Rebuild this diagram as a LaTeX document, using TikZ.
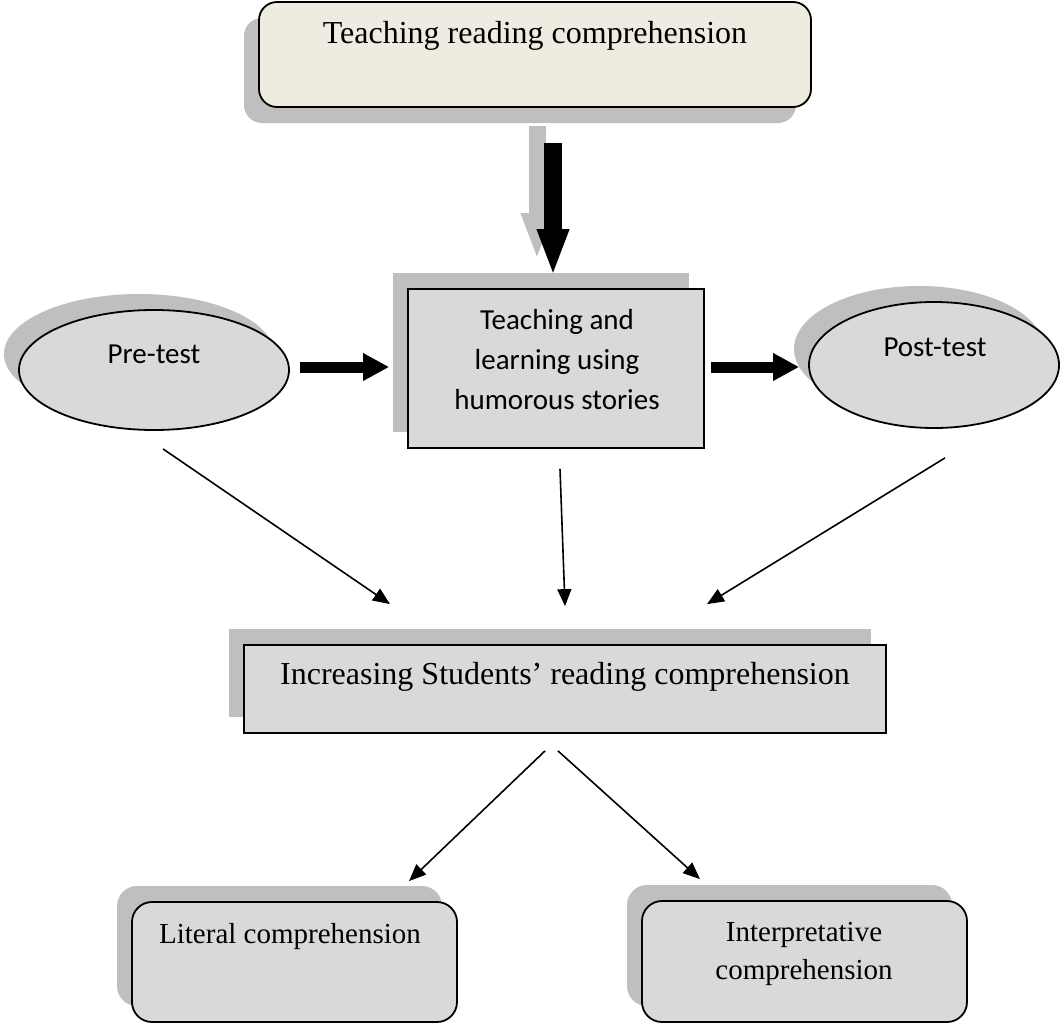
\documentclass[tikz,border=0pt]{standalone}
\usepackage{fontspec}
\setmainfont{Liberation Serif}
\newfontfamily\calibrifont{Carlito}
\usetikzlibrary{arrows.meta,shapes.geometric,shadows}
\definecolor{shadowgray}{HTML}{BFBFBF}
\definecolor{boxgray}{HTML}{D9D9D9}
\definecolor{boxbeige}{HTML}{EEECE1}

\begin{document}
\begin{tikzpicture}[x=1pt,y=-1pt,
    raisedshade/.style={general shadow={fill=shadowgray,shadow xshift=-15pt,shadow yshift=16pt}},
    droppedshade/.style={general shadow={fill=shadowgray,shadow xshift=-15pt,shadow yshift=-16pt}},
    box/.style={draw=black,line width=1.8pt,fill=boxgray,inner sep=0pt},
    oval/.style={box,ellipse,raisedshade},
    serif text/.style={font=\fontsize{32}{38}\selectfont,inner sep=0pt},
    small serif/.style={font=\fontsize{29}{38}\selectfont,inner sep=0pt,align=center},
    sans text/.style={font=\calibrifont\fontsize{29}{40}\selectfont,inner sep=0pt,align=center},
    bigarrow/.style={line width=#1,-{Triangle[length=26pt,width=26pt]}},
    link/.style={line width=1.6pt,-{Triangle[length=17pt,width=14pt]}}]
    \useasboundingbox (0,0) rectangle (1062,1025);

    % Boite du haut
    \node[box,fill=boxbeige,rounded corners=18pt,droppedshade,minimum width=552pt,minimum height=105pt] (teach) at (535,54.5) {};
    \node[serif text] (teachtxt) at (535,36) {Teaching reading comprehension};

    % Ligne du milieu
    \node[oval,minimum width=270pt,minimum height=120pt] (pre) at (154,370) {};
    \node[box,raisedshade,minimum width=296pt,minimum height=159pt] (mid) at (556,368.5) {};
    \node[oval,minimum width=250pt,minimum height=126pt] (post) at (934,365) {};
    \node[sans text] (pretxt) at (154,354) {Pre-test};
    \node[sans text] (midtxt) at (557,360) {Teaching and\\learning using\\humorous stories};
    \node[sans text] (posttxt) at (935,347) {Post-test};

    % Resultat
    \node[box,raisedshade,minimum width=642pt,minimum height=88pt] (incr) at (565,689) {};
    \node[serif text] (incrtxt) at (565,677) {Increasing Students’ reading comprehension};

    % Boites du bas
    \node[box,rounded corners=20pt,raisedshade,minimum width=325pt,minimum height=120pt] (lit) at (294.5,962) {};
    \node[box,rounded corners=20pt,raisedshade,minimum width=325pt,minimum height=121pt] (interp) at (804.5,961.5) {};
    \node[small serif] (littxt) at (290,937) {Literal comprehension};
    \node[small serif] (interptxt) at (804,954) {Interpretative\\comprehension};

    % Grosses fleches
    \draw[shadowgray,line width=17pt,-{Triangle[length=47pt,width=29pt]},shorten <=35pt,shorten >=12pt,
          transform canvas={xshift=-16pt,yshift=17pt}] (teach.south -| 553,0) -- (553,289);
    \draw[line width=18pt,-{Triangle[length=47pt,width=29pt]},shorten <=35pt,shorten >=12pt] (teach.south -| 553,0) -- (mid.north -| 553,0);
    \draw[bigarrow=11pt,shorten <=10pt,shorten >=18pt] (pre.east |- 0,367) -- (mid.west |- 0,367);
    \draw[bigarrow=11pt,shorten <=6pt,shorten >=9pt] (mid.east |- 0,367) -- (post.west |- 0,367);

    % Fleches fines
    \draw[link] ([xshift=9pt,yshift=-18pt]pre.south) -- ([xshift=-175pt,yshift=40pt]incr.north);
    \draw[link] ([xshift=4pt,yshift=-20pt]mid.south) -- ([yshift=38pt]incr.north);
    \draw[link] ([xshift=11pt,yshift=-29pt]post.south) -- ([xshift=142pt,yshift=40pt]incr.north);
    \draw[link] ([xshift=-20pt,yshift=-17pt]incr.south) -- ([xshift=114.5pt,yshift=20pt]lit.north);
    \draw[link] ([xshift=-7pt,yshift=-17pt]incr.south) -- ([xshift=-104.5pt,yshift=21pt]interp.north);
\end{tikzpicture}
\end{document}
